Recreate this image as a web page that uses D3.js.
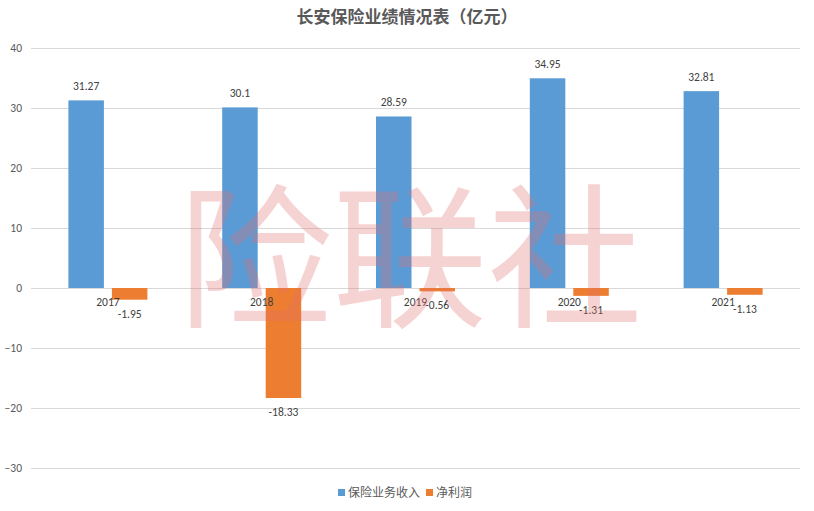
<!DOCTYPE html>
<html><head><meta charset="utf-8">
<script src="https://cdn.jsdelivr.net/npm/d3@7"></script>
<style>body{margin:0;background:#fff;}svg{display:block;font-family:"Microsoft YaHei","Noto Sans CJK SC",sans-serif;}</style>
</head><body><svg id="c" width="814" height="511"></svg>
<script>
const categories = ["2017","2018","2019","2020","2021"];
const revenue = [31.27, 30.1, 28.59, 34.95, 32.81];
const netProfit = [-1.95, -18.33, -0.56, -1.31, -1.13];
const yTicks = [40, 30, 20, 10, 0, -10, -20, -30];
const seriesNames = ["保险业务收入", "净利润"];
const colors = ["#5B9BD5", "#ED7D31"];

(function(){
const svg = d3.select("#c");
const pLeft = 31, pRight = 800, pTop = 48, pBottom = 468;
const y = d3.scaleLinear().domain([-30, 40]).range([pBottom, pTop]);
const x0 = d3.scaleBand().domain(categories).range([pLeft, pRight]).paddingInner(0).paddingOuter(0);
const bw = 35.5, gap = 8;
const numFont = "Calibri,'Liberation Sans',sans-serif";

svg.append("text").attr("x", 407).attr("y", 23).attr("text-anchor", "middle")
  .attr("font-size", 17).attr("font-weight", "bold").attr("fill", "#595959")
  .text("长安保险业绩情况表（亿元）");

svg.append("g").selectAll("line").data(yTicks).join("line")
  .attr("x1", pLeft).attr("x2", pRight)
  .attr("y1", d => Math.round(y(d)) + 0.5).attr("y2", d => Math.round(y(d)) + 0.5)
  .attr("stroke", "#D9D9D9").attr("stroke-width", 1);

const yAxis = d3.axisLeft(y).tickValues(yTicks).tickSize(0).tickPadding(0);
const ga = svg.append("g").attr("transform", `translate(${pLeft - 9},0)`).call(yAxis);
ga.select(".domain").remove();
ga.selectAll("text").attr("font-size", 11.5).attr("fill", "#595959").attr("font-family", numFont);

const groups = categories.map((c, i) => ({c, i, cx: x0(c) + x0.bandwidth() / 2}));

const gb = svg.append("g");
gb.selectAll("rect.rev").data(groups).join("rect")
  .attr("x", d => d.cx - gap / 2 - bw).attr("width", bw)
  .attr("y", d => y(revenue[d.i])).attr("height", d => y(0) - y(revenue[d.i]))
  .attr("fill", colors[0]);
gb.selectAll("rect.np").data(groups).join("rect")
  .attr("x", d => d.cx + gap / 2).attr("width", bw)
  .attr("y", y(0)).attr("height", d => y(netProfit[d.i]) - y(0))
  .attr("fill", colors[1]);

svg.append("g").selectAll("text").data(groups).join("text")
  .attr("x", d => d.cx).attr("y", y(0) + 18).attr("text-anchor", "middle")
  .attr("font-size", 11.5).attr("fill", "#404040").attr("font-family", numFont)
  .text(d => d.c);

svg.append("g").selectAll("text").data(groups).join("text")
  .attr("x", d => d.cx - gap / 2 - bw / 2).attr("y", d => y(revenue[d.i]) - 10)
  .attr("text-anchor", "middle").attr("font-size", 11.5).attr("fill", "#404040").attr("font-family", numFont)
  .text(d => revenue[d.i]);
svg.append("g").selectAll("text").data(groups).join("text")
  .attr("x", d => d.cx + gap / 2 + bw / 2).attr("y", d => y(netProfit[d.i]) + 18)
  .attr("text-anchor", "middle").attr("font-size", 11.5).attr("fill", "#404040").attr("font-family", numFont)
  .text(d => netProfit[d.i]);

svg.append("text").attr("x", 410).attr("y", 315).attr("text-anchor", "middle")
  .attr("font-size", 155).attr("fill", "rgba(225,110,110,0.3)")
  .attr("font-family", "'Noto Sans CJK SC',sans-serif").attr("font-weight", 400)
  .text("险联社");

const lg = svg.append("g").attr("transform", "translate(338,493)");
const items = [{n: seriesNames[0], c: colors[0], x: 0}, {n: seriesNames[1], c: colors[1], x: 88}];
items.forEach(it => {
  lg.append("rect").attr("x", it.x).attr("y", -4).attr("width", 7).attr("height", 7).attr("fill", it.c);
  lg.append("text").attr("x", it.x + 10).attr("y", 4).attr("font-size", 12).attr("fill", "#595959").text(it.n);
});
})();
</script></body></html>
